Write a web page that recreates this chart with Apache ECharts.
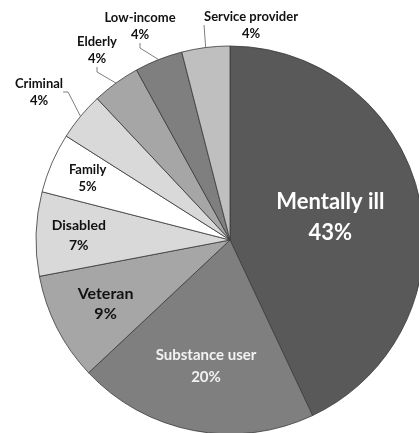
<!DOCTYPE html>
<html>
<head>
<meta charset="utf-8">
<script src="https://cdn.jsdelivr.net/npm/echarts@6/dist/echarts.min.js"></script>
<style>
html,body{margin:0;padding:0;background:#fff;}
#chart{width:419px;height:433px;}
</style>
</head>
<body>
<div id="chart"></div>
<script>
var categories = ['Mentally ill','Substance user','Veteran','Disabled','Family','Criminal','Elderly','Low-income','Service provider'];
var values = [43, 20, 9, 7, 5, 4, 4, 4, 4];
var sliceColors = ['#595959','#7f7f7f','#a6a6a6','#d9d9d9','#ffffff','#d9d9d9','#a6a6a6','#7f7f7f','#bfbfbf'];

// label styling / placement (layout, not data)
var CX = 230, CY = 240, R = 194;
var labelFont = [22, 15, 16, 14, 13, 13, 13, 13, 13];
var labelLH = [31, 22, 20, 20, 17, 17, 17, 17, 17];
var labelColor = ['#ffffff','#f2f2f2','#111','#111','#111','#111','#111','#111','#111'];
var insideRadiusFrac = [0.53, 0.66, 0.72, 0.78, 0.80, null, null, null, null];
var outsideLabelPos = [null, null, null, null, null, [39, 92], [97, 50], [140, 26], [251, 25]];

var total = values.reduce(function(a,b){return a+b;},0);
var cum = 0;
var midAngles = values.map(function(v){ var m = (cum + v/2)/total*2*Math.PI; cum += v; return m; });

var data = categories.map(function(c, i){
  var outside = insideRadiusFrac[i] === null;
  return {
    name: c,
    value: values[i],
    itemStyle: {color: sliceColors[i]},
    label: {
      position: outside ? 'outside' : 'inside',
      fontSize: labelFont[i],
      color: labelColor[i],
      lineHeight: labelLH[i]
    },
    labelLine: {show: outside}
  };
});

var chart = echarts.init(document.getElementById('chart'));
chart.setOption({
  animation: false,
  backgroundColor: '#ffffff',
  series: [{
    type: 'pie',
    center: [CX, CY],
    radius: R,
    startAngle: 90,
    clockwise: true,
    avoidLabelOverlap: false,
    data: data,
    itemStyle: {borderColor: '#3a3a3a', borderWidth: 0.8},
    label: {
      show: true,
      fontFamily: 'Lato',
      fontWeight: 'bold',
      formatter: function(p){ return p.name + '\n' + p.value + '%'; },
      align: 'center'
    },
    labelLine: {
      show: true,
      length: 10,
      length2: 5,
      lineStyle: {color: '#7f7f7f', width: 1}
    },
    labelLayout: function(params){
      var i = params.dataIndex;
      if (insideRadiusFrac[i] !== null) {
        var a = midAngles[i];
        var r = R * insideRadiusFrac[i];
        return {x: CX + r*Math.sin(a), y: CY - r*Math.cos(a), align: 'center', verticalAlign: 'middle'};
      }
      var p = outsideLabelPos[i];
      return {x: p[0], y: p[1], align: 'center', verticalAlign: 'middle'};
    }
  }]
});
</script>
</body>
</html>
